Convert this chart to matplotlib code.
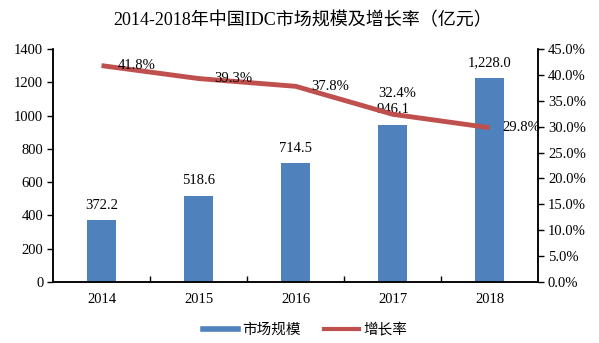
import matplotlib.pyplot as plt
import numpy as np
from matplotlib.lines import Line2D
from matplotlib.ticker import FuncFormatter, MultipleLocator, FixedLocator

plt.rcParams['font.family'] = ['Liberation Serif', 'Noto Sans CJK SC']

years = ['2014', '2015', '2016', '2017', '2018']
market = [372.2, 518.6, 714.5, 946.1, 1228.0]
growth = [41.8, 39.3, 37.8, 32.4, 29.8]

bar_color = '#4F81BD'
line_color = '#C0504D'

fig = plt.figure(figsize=(5.99, 3.43), dpi=100)
ax = fig.add_axes([0.0885, 0.178, 0.81, 0.679])
ax2 = ax.twinx()

x = np.arange(len(years))
ax.bar(x, market, width=0.3, color=bar_color, zorder=2)
ax2.plot(x, growth, color=line_color, lw=3.5, solid_capstyle='butt', zorder=3)

ax.set_xlim(-0.5, len(years) - 0.5)
ax.set_ylim(0, 1400)
ax2.set_ylim(0, 45)
ax.yaxis.set_major_locator(MultipleLocator(200))
ax2.yaxis.set_major_locator(MultipleLocator(5))
ax2.yaxis.set_major_formatter(FuncFormatter(lambda v, p: f'{v:.1f}%'))

ax.set_xticks(x)
ax.set_xticklabels(years)
ax.xaxis.set_minor_locator(FixedLocator(np.arange(0.5, len(years) - 1, 1)))
ax.tick_params(axis='x', which='major', length=0, pad=8, labelsize=10.5)
ax.tick_params(axis='x', which='minor', direction='in', length=4, width=1)
ax.tick_params(axis='y', direction='out', length=4, width=1, labelsize=10.5, pad=3)
ax2.tick_params(axis='y', direction='out', length=4, width=1, labelsize=10.5, pad=3)

for a in (ax, ax2):
    a.spines['top'].set_visible(False)
    for s in ('left', 'right', 'bottom'):
        a.spines[s].set_linewidth(1.1)

# value labels on the bars
for xi, v in zip(x, market):
    ax.annotate(f'{v:,.1f}', (xi, v), xytext=(0, 6), textcoords='offset points',
                ha='center', va='bottom', fontsize=10.5)

# growth labels, mostly to the right of the points
offsets = [(25, 0), (25, 0), (25, 0), (3, 15), (23, 0)]
for xi, g, off in zip(x, growth, offsets):
    ax2.annotate(f'{g:.1f}%', (xi, g), xytext=off, textcoords='offset points',
                 ha='center', va='center', fontsize=10.5, zorder=4)

ax.set_title('2014-2018年中国IDC市场规模及增长率（亿元）', fontsize=13,
             fontweight='normal', pad=17, x=0.515)

handles = [Line2D([], [], color=bar_color, lw=4),
           Line2D([], [], color=line_color, lw=3)]
fig.legend(handles=handles, labels=['市场规模', '增长率'], loc='lower center',
           bbox_to_anchor=(0.51, -0.02), ncol=2, frameon=False, fontsize=10.5,
           handlelength=2.4, columnspacing=1.6, handletextpad=0.3)

fig.savefig('out.png', dpi=100)
